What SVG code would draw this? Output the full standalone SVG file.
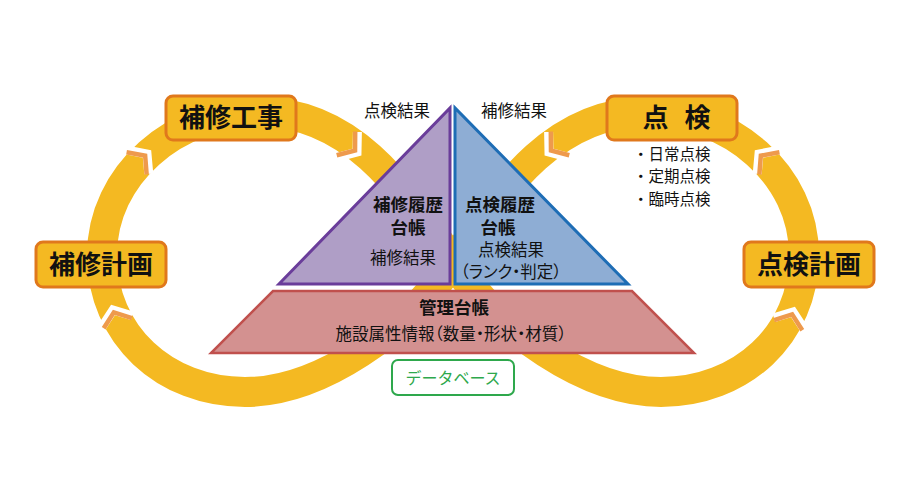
<svg xmlns="http://www.w3.org/2000/svg" xmlns:xlink="http://www.w3.org/1999/xlink" width="900" height="500" viewBox="0 0 900 500">
<style>
  text { font-family: "Noto Sans CJK JP", "Noto Sans CJK SC", sans-serif; fill: #111; }
  .box { fill: #F4B922; stroke: #E0781C; stroke-width: 3; }
  .boxtxt { font-size: 26px; font-weight: bold; text-anchor: middle; }
  .lbl { font-size: 16.5px; }
  .lst { font-size: 15.5px; }
  .mid { text-anchor: middle; }
  .hd { font-size: 17.5px; font-weight: bold; text-anchor: middle; }
  .palt { font-feature-settings: "palt"; }
  .ring { fill: none; stroke: #F4B922; stroke-width: 30; }
</style>
<defs>
  <g id="chev">
    <polyline points="-12,-16 0,0 -12,16" fill="none" stroke="#ffffff" stroke-width="9"/>
    <polyline points="-14,-15 -2.5,0 -14,15" fill="none" stroke="#EE9A4D" stroke-width="4.5"/>
  </g>
</defs>
<rect width="900" height="500" fill="#ffffff"/>

<g id="connectors">
  <path class="ring" d="M453,262 C413,205 360,112 260,112 C175,112 102,175 102,255 C102,335 165,392 245,392 C320,392 408,330 453,262 C493,205 546,112 646,112 C731,112 804,175 804,255 C804,335 741,392 661,392 C586,392 498,330 453,262 Z"/>
  <use xlink:href="#chev" transform="translate(357,152) rotate(38)"/>
  <use xlink:href="#chev" transform="translate(147,154) rotate(-42)"/>
  <use xlink:href="#chev" transform="translate(113,310) rotate(-110)"/>
  <use xlink:href="#chev" transform="translate(549,152) rotate(142)"/>
  <use xlink:href="#chev" transform="translate(759,154) rotate(-138)"/>
  <use xlink:href="#chev" transform="translate(793,312) rotate(-70)"/>
</g>

<g id="label-tenken-kekka">
  <text class="lbl mid" x="397" y="117">点検結果</text>
</g>
<g id="label-hoshu-kekka">
  <text class="lbl mid" x="514" y="117">補修結果</text>
</g>

<g id="hoshu-rireki">
  <polygon points="279,284 450,108 450,284" fill="#AF9EC6" stroke="#6A3D9A" stroke-width="3"/>
  <text class="hd" x="408" y="211">補修履歴</text>
  <text class="hd" x="408" y="234">台帳</text>
  <text class="lbl mid" x="403" y="264">補修結果</text>
</g>

<g id="tenken-rireki">
  <polygon points="455,108 455,284 628,284" fill="#8EADD4" stroke="#1E6DB5" stroke-width="3"/>
  <text class="hd" x="500" y="211">点検履歴</text>
  <text class="hd" x="498" y="234">台帳</text>
  <text class="lbl mid" x="511" y="256">点検結果</text>
  <text class="lbl mid palt" x="511" y="278">（ランク・判定）</text>
</g>

<g id="kanri-daicho">
  <polygon points="273,291 632,291 694,353 211,353" fill="#D39190" stroke="#C0504D" stroke-width="2.5"/>
  <text class="hd" x="454" y="314">管理台帳</text>
  <text class="lbl mid palt" x="451" y="340">施設属性情報（数量・形状・材質）</text>
</g>

<g id="database">
  <rect x="392" y="360" width="122" height="35" rx="6" fill="#ffffff" stroke="#2EA84C" stroke-width="2"/>
  <text class="mid" x="453" y="384" style="font-size:16px; fill:#2EA84C">データベース</text>
</g>

<g id="hoshu-koji">
  <rect class="box" x="166" y="96" width="130" height="44" rx="7"/>
  <text class="boxtxt" x="231" y="127">補修工事</text>
</g>

<g id="hoshu-keikaku">
  <rect class="box" x="36" y="242" width="130" height="45" rx="7"/>
  <text class="boxtxt" x="101" y="274">補修計画</text>
</g>

<g id="tenken">
  <rect class="box" x="607" y="96" width="130" height="44" rx="7"/>
  <text class="boxtxt" x="674" y="127" style="letter-spacing:-5px">点　検</text>
</g>

<g id="tenken-keikaku">
  <rect class="box" x="744" y="242" width="130" height="45" rx="7"/>
  <text class="boxtxt" x="809" y="274">点検計画</text>
</g>

<g id="tenken-list">
  <text class="lst" x="633" y="159.5">・日常点検</text>
  <text class="lst" x="633" y="182">・定期点検</text>
  <text class="lst" x="633" y="204.5">・臨時点検</text>
</g>
</svg>
